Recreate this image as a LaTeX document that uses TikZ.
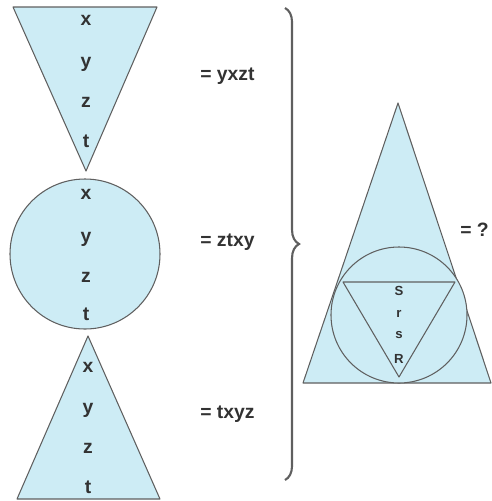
\documentclass[tikz,border=0pt]{standalone}
\usepackage{fontspec}
\setmainfont{Liberation Sans}
\usetikzlibrary{decorations.pathreplacing}
\definecolor{paleblue}{RGB}{205,236,245}
\definecolor{edgegray}{RGB}{95,95,95}
\definecolor{inkgray}{RGB}{50,50,50}
\begin{document}
\begin{tikzpicture}[x=0.02cm, y=-0.02cm,
  shp/.style={draw=edgegray, fill=paleblue, line width=0.6pt, line join=round},
  let/.style={font=\fontsize{11}{13}\selectfont\bfseries, text=inkgray, inner sep=0pt, anchor=base},
  sml/.style={font=\fontsize{7.5}{9}\selectfont\bfseries, text=inkgray, inner sep=0pt, anchor=base},
  eq/.style={font=\fontsize{11}{13}\selectfont\bfseries, text=inkgray, inner sep=0pt, anchor=base west},
]
  \useasboundingbox (0,0) rectangle (492,501);

  % left column
  \draw[shp] (13,7) -- (157,7) -- (86,171) -- cycle;
  \node[let] (ax) at (86,25)  {x};
  \node[let] (ay) at (86,67)  {y};
  \node[let] (az) at (86,107) {z};
  \node[let] (at) at (86,147) {t};

  \draw[shp] (85,254) circle (75);
  \node[let] (bx) at (86,199) {x};
  \node[let] (by) at (86,242) {y};
  \node[let] (bz) at (86,282) {z};
  \node[let] (bt) at (86,320) {t};

  \draw[shp] (88,336) -- (160,499) -- (17,499) -- cycle;
  \node[let] (cx) at (88,372) {x};
  \node[let] (cy) at (88,413) {y};
  \node[let] (cz) at (88,453) {z};
  \node[let] (ct) at (88,493) {t};

  % results
  \node[eq] (ra) at (200,80)  {= yxzt};
  \node[eq] (rb) at (200,246) {= ztxy};
  \node[eq] (rc) at (200,418) {= txyz};

  \draw[edgegray, line width=1.2pt, decorate, decoration={brace, amplitude=8pt}]
    (285,8) -- (285,480);

  % right figure
  \draw[shp] (398,103) -- (491,383) -- (303,383) -- cycle;
  \draw[shp] (399,315) circle (68);
  \draw[shp] (343,282) -- (455,282) -- (399,377) -- cycle;
  \node[sml] (sS) at (399,295) {S};
  \node[sml] (sr) at (399,317) {r};
  \node[sml] (ss) at (399,338) {s};
  \node[sml] (sR) at (399,363) {R};
  \node[eq] (rq) at (460,236) {= ?};
\end{tikzpicture}
\end{document}
